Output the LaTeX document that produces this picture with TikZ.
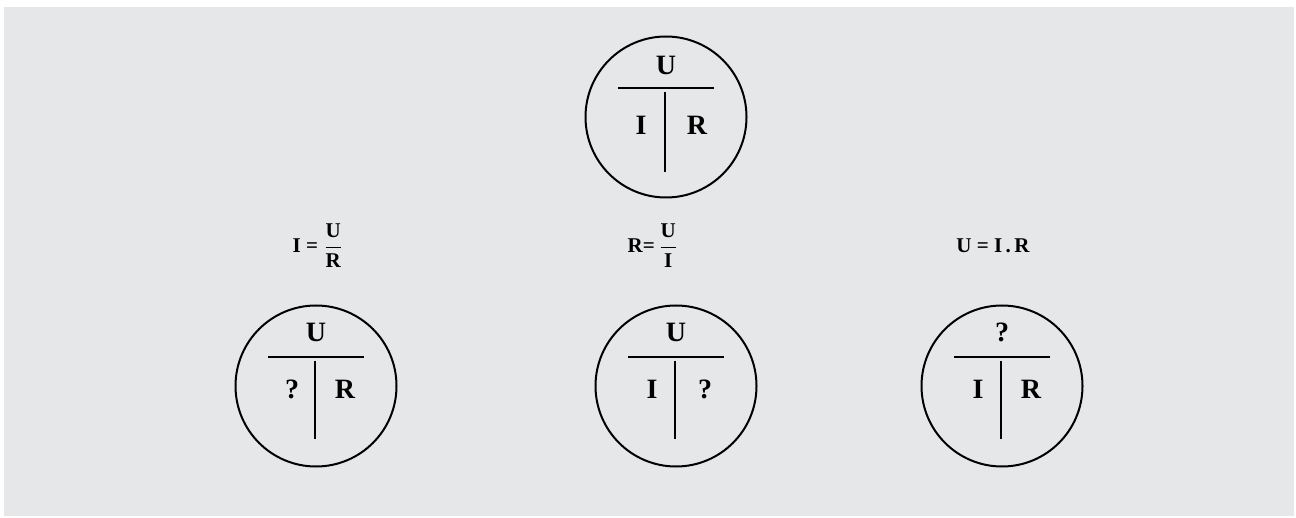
\documentclass[tikz,border=0pt]{standalone}
\usepackage{amsmath}
\usepackage{fontspec}
\setmainfont{Liberation Serif}
\usepackage{tikz}
\usetikzlibrary{calc}
\definecolor{panelgray}{HTML}{E6E7E8}

\begin{document}
\begin{tikzpicture}[
    x=0.5pt, y=-0.5pt,
    ring/.style={circle, draw, line width=1pt, minimum size=80.5pt, inner sep=0pt},
    bar/.style={line width=1pt},
    sym/.style={font=\fontsize{14}{16}\selectfont\bfseries, inner sep=1pt},
    rule/.style={font=\fontsize{10.5}{12}\selectfont\bfseries, inner sep=1pt},
]
\useasboundingbox (0,0) rectangle (1296,518);
\fill[panelgray] (4,7) rectangle (1294,516);

% Top circle
\node[ring] (main) at (666,117) {};
\draw[bar] ($(main.center)+(-48,-29)$) -- ($(main.center)+(48,-29)$);
\draw[bar] ($(main.center)+(-1,-25)$) -- ($(main.center)+(-1,55)$);
\node[sym] (mainU) at ($(main.center)+(0,-52)$) {U};
\node[sym] (mainI) at ($(main.center)+(-25,8)$) {I};
\node[sym] (mainR) at ($(main.center)+(31,8)$) {R};

% Bottom circles
\foreach \name/\cx/\tsym/\lsym/\rsym in {ci/316/U/?/R, cr/676/U/I/?, cu/1002/?/I/R} {
    \node[ring] (\name) at (\cx,386) {};
    \draw[bar] ($(\name.center)+(-48,-29)$) -- ($(\name.center)+(48,-29)$);
    \draw[bar] ($(\name.center)+(-1,-25)$) -- ($(\name.center)+(-1,53)$);
    \node[sym] (\name-top) at ($(\name.center)+(0,-54)$) {\tsym};
    \node[sym] (\name-left) at ($(\name.center)+(-24,3)$) {\lsym};
    \node[sym] (\name-right) at ($(\name.center)+(29,3)$) {\rsym};
}

% Formulas
\node[rule] (fI) at (318,246) {I = $\dfrac{\textbf{U}}{\textbf{R}}$};
\node[rule] (fR) at (653,246) {R=\,$\dfrac{\textbf{U}}{\textbf{I}}$};
\node[rule] (fU) at (993,246) {U = I\,.\,R};
\end{tikzpicture}
\end{document}
